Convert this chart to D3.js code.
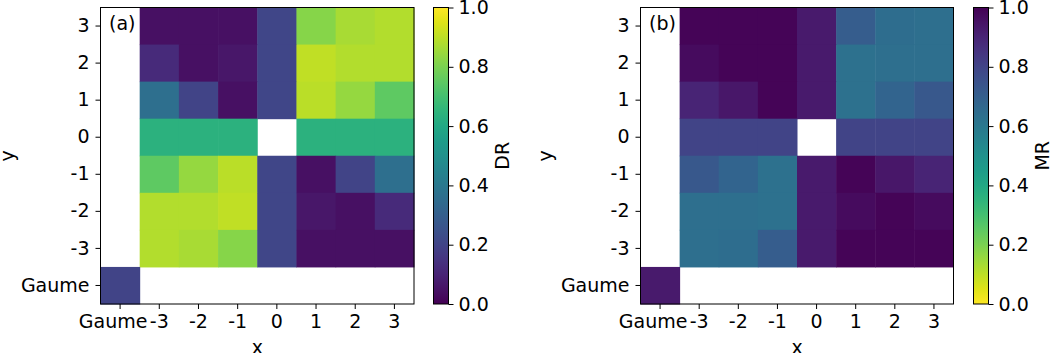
<!DOCTYPE html>
<html>
<head>
<meta charset="utf-8">
<script src="https://d3js.org/d3.v7.min.js"></script>
<style>
  body { margin: 0; background: #fff; }
  text { font-family: "DejaVu Sans", sans-serif; fill: #000; }
</style>
</head>
<body>
<div id="chart-area"></div>
<script>
// categories
var xCats = ["Gaume", "-3", "-2", "-1", "0", "1", "2", "3"];
var yCats = ["3", "2", "1", "0", "-1", "-2", "-3", "Gaume"];

// DR values, rows top to bottom (y = 3 ... -3, Gaume), null = empty cell
var drValues = [
    [null, 0.04, 0.04, 0.04, 0.21, 0.82, 0.87, 0.885],
    [null, 0.12, 0.04, 0.06, 0.21, 0.905, 0.885, 0.885],
    [null, 0.36, 0.20, 0.04, 0.21, 0.895, 0.84, 0.75],
    [null, 0.64, 0.64, 0.64, null, 0.64, 0.64, 0.64],
    [null, 0.75, 0.84, 0.895, 0.21, 0.04, 0.20, 0.36],
    [null, 0.885, 0.885, 0.905, 0.21, 0.06, 0.04, 0.12],
    [null, 0.885, 0.87, 0.82, 0.21, 0.04, 0.04, 0.04],
    [0.20, null, null, null, null, null, null, null]
];

// MR values
var mrValues = [
    [null, 0.99, 0.99, 0.99, 0.93, 0.71, 0.645, 0.64],
    [null, 0.97, 0.99, 0.99, 0.93, 0.63, 0.64, 0.64],
    [null, 0.90, 0.94, 0.99, 0.93, 0.63, 0.68, 0.73],
    [null, 0.80, 0.80, 0.80, null, 0.80, 0.80, 0.80],
    [null, 0.73, 0.68, 0.63, 0.93, 0.99, 0.94, 0.90],
    [null, 0.64, 0.64, 0.63, 0.93, 0.97, 0.99, 0.97],
    [null, 0.64, 0.645, 0.71, 0.93, 0.99, 0.99, 0.99],
    [0.93, null, null, null, null, null, null, null]
];

var cbTicks = [0, 0.2, 0.4, 0.6, 0.8, 1.0];

var W = 1050, H = 353;
var fs = 19;

var svg = d3.select("#chart-area").append("svg")
    .attr("width", W)
    .attr("height", H);

function drawPanel(p) {
    var g = svg.append("g");

    var x = d3.scaleBand().domain(xCats).range([p.x0, p.x1]);
    var y = d3.scaleBand().domain(yCats).range([p.y0, p.y1]);
    var color = d3.scaleSequential(p.interp).domain([0, 1]);

    var cells = [];
    p.values.forEach((row, i) => {
        row.forEach((v, j) => {
            if (v !== null) cells.push({ xc: xCats[j], yc: yCats[i], v: v });
        });
    });

    g.selectAll("rect.cell").data(cells).enter().append("rect")
        .attr("class", "cell")
        .attr("x", d => x(d.xc))
        .attr("y", d => y(d.yc))
        .attr("width", x.bandwidth() + 0.5)
        .attr("height", y.bandwidth() + 0.5)
        .attr("fill", d => color(d.v));

    // frame
    g.append("rect")
        .attr("x", p.x0).attr("y", p.y0)
        .attr("width", p.x1 - p.x0).attr("height", p.y1 - p.y0)
        .attr("fill", "none").attr("stroke", "black").attr("stroke-width", 1);

    var xAxis = d3.axisBottom(x).tickSizeOuter(0).tickSizeInner(5).tickPadding(6);
    var gx = g.append("g").attr("transform", "translate(0," + p.y1 + ")").call(xAxis);
    gx.select(".domain").remove();
    gx.selectAll("text").attr("font-size", fs).attr("font-family", "DejaVu Sans")
        .attr("dx", d => d == "Gaume" ? -7 : 0);

    var yAxis = d3.axisLeft(y).tickSizeOuter(0).tickSizeInner(5).tickPadding(6);
    var gy = g.append("g").attr("transform", "translate(" + p.x0 + ",0)").call(yAxis);
    gy.select(".domain").remove();
    gy.selectAll("text").attr("font-size", fs).attr("font-family", "DejaVu Sans");

    g.append("text")
        .attr("x", (p.x0 + p.x1) / 2).attr("y", 348)
        .attr("text-anchor", "middle").attr("dominant-baseline", "middle")
        .attr("font-size", fs).text("x");

    g.append("text")
        .attr("transform", "translate(" + p.ylx + "," + ((p.y0 + p.y1) / 2) + ") rotate(-90)")
        .attr("text-anchor", "middle").attr("dominant-baseline", "middle")
        .attr("font-size", fs).text("y");

    g.append("text")
        .attr("x", p.x0 + 8.5).attr("y", 29.5)
        .attr("font-size", fs).text(p.tag);

    // colorbar
    var gradId = "grad-" + p.label;
    var grad = svg.append("defs").append("linearGradient")
        .attr("id", gradId)
        .attr("x1", "0%").attr("y1", "100%").attr("x2", "0%").attr("y2", "0%");
    d3.range(0, 1.0001, 0.05).forEach(t => {
        grad.append("stop").attr("offset", (t * 100) + "%").attr("stop-color", color(t));
    });

    var cb = d3.scaleLinear().domain([0, 1]).range([p.y1, p.y0]);
    g.append("rect")
        .attr("x", p.cbx).attr("y", p.y0)
        .attr("width", 15).attr("height", p.y1 - p.y0)
        .attr("fill", "url(#" + gradId + ")")
        .attr("stroke", "black").attr("stroke-width", 1);

    var cbAxis = d3.axisRight(cb).tickValues(cbTicks).tickFormat(d3.format(".1f"))
        .tickSizeOuter(0).tickSizeInner(5).tickPadding(5);
    var gc = g.append("g").attr("transform", "translate(" + (p.cbx + 15) + ",0)").call(cbAxis);
    gc.select(".domain").remove();
    gc.selectAll("text").attr("font-size", fs).attr("font-family", "DejaVu Sans");

    g.append("text")
        .attr("transform", "translate(" + (p.cbx + 70) + "," + ((p.y0 + p.y1) / 2) + ") rotate(-90)")
        .attr("text-anchor", "middle").attr("dominant-baseline", "middle")
        .attr("font-size", fs).text(p.label);
}

drawPanel({
    values: drValues, interp: d3.interpolateViridis,
    x0: 100.5, x1: 414, y0: 7.5, y1: 304, cbx: 433.5, ylx: 8,
    tag: "(a)", label: "DR"
});

drawPanel({
    values: mrValues, interp: t => d3.interpolateViridis(1 - t),
    x0: 640.5, x1: 953.5, y0: 7.5, y1: 304, cbx: 973.5, ylx: 546,
    tag: "(b)", label: "MR"
});
</script>
</body>
</html>
